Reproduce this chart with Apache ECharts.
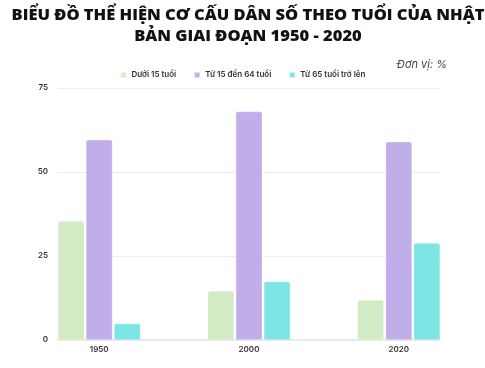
<!DOCTYPE html>
<html><head><meta charset="utf-8">
<script src="https://cdn.jsdelivr.net/npm/echarts@6/dist/echarts.min.js"></script>
<style>html,body{margin:0;padding:0;background:#fff}#c{width:485px;height:368px}</style>
</head><body><div id="c"></div>
<script>
const years = ['1950', '2000', '2020'];
const seriesNames = ['Dưới 15 tuổi', 'Từ 15 đến 64 tuổi', 'Từ 65 tuổi trở lên'];
const under15 = [35.4, 14.6, 11.9];
const age15to64 = [59.6, 68.0, 59.0];
const over65 = [4.9, 17.4, 28.9];
const yTicks = [0, 25, 50, 75];
const colors = ['#d3ebc5', '#bfaeea', '#7ee5e5'];

const chart = echarts.init(document.getElementById('c'), null, {renderer: 'canvas'});
const seriesData = [under15, age15to64, over65];
const ff = 'Inter, "Open Sans", sans-serif';
chart.setOption({
  animation: false,
  title: [{
    text: 'BIỂU ĐỒ THỂ HIỆN CƠ CẤU DÂN SỐ THEO TUỔI CỦA NHẬT\nBẢN GIAI ĐOẠN 1950 - 2020',
    left: 243, top: 0, textAlign: 'center',
    textStyle: {fontFamily: '"Open Sans", sans-serif', fontWeight: 800, fontSize: 16.5, lineHeight: 21, color: '#111'}
  }, {
    text: 'Đơn vị: %', right: 33, top: 54,
    textStyle: {fontFamily: ff, fontStyle: 'italic', fontWeight: 400, fontSize: 11, color: '#444'}
  }],
  legend: {
    top: 66, left: 'center', itemWidth: 6, itemHeight: 6, itemGap: 17, icon: 'rect',
    textStyle: {fontFamily: ff, fontSize: 8, color: '#333', fontWeight: 600},
    data: seriesNames
  },
  grid: {left: 58, right: 45, top: 88, bottom: 28, containLabel: false},
  xAxis: {
    type: 'value', min: -0.275, max: 2.275,
    splitLine: {show: false},
    axisLine: {show: true, onZero: false, lineStyle: {color: '#e4e6ea', width: 1.5}},
    axisTick: {show: false},
    axisLabel: {
      customValues: [0, 1, 2],
      formatter: v => years[Math.round(v)] || '',
      fontFamily: ff, fontSize: 8, color: '#333', fontWeight: 600, margin: 6
    }
  },
  yAxis: {
    type: 'value', min: 0, max: 75, interval: 25,
    axisLine: {show: false}, axisTick: {show: false},
    splitLine: {lineStyle: {color: '#eceef1', width: 1}},
    axisLabel: {fontFamily: ff, fontSize: 8, color: '#333', fontWeight: 600, margin: 10,
      customValues: yTicks}
  },
  series: seriesNames.map((n, i) => ({
    name: n, type: 'bar', barWidth: 26.5, barGap: '6%',
    itemStyle: {color: colors[i], borderRadius: [2, 2, 0, 0], borderColor: 'rgba(255,255,255,0.6)', borderWidth: 0.5},
    data: seriesData[i].map((v, j) => [j, v])
  }))
});
</script></body></html>
